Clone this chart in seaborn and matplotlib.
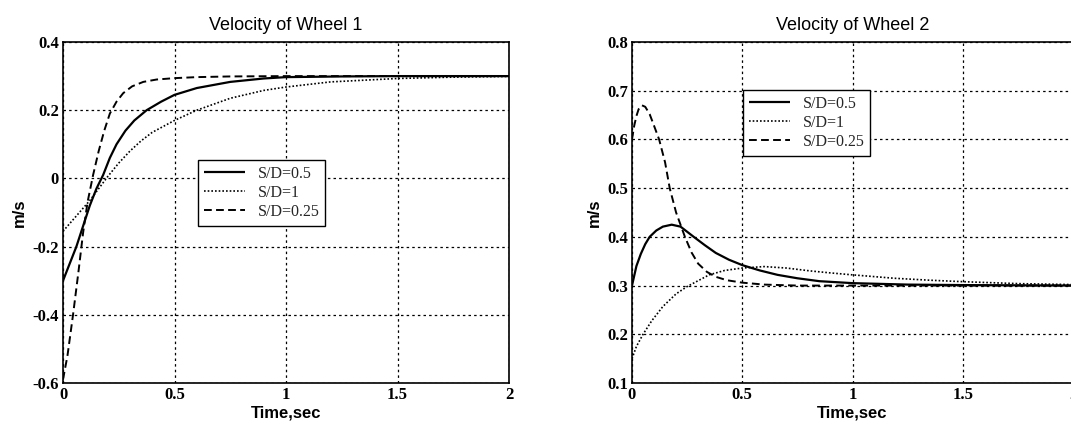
import numpy as np
import pandas as pd
import matplotlib
matplotlib.use("Agg")
import matplotlib.pyplot as plt
import seaborn as sns

# ---------------- data ----------------
labels = ["S/D=0.5", "S/D=1", "S/D=0.25"]

# Wheel 1
w1_t_05 = [0, 0.03, 0.06, 0.09, 0.12, 0.15, 0.18, 0.21, 0.24, 0.28, 0.32, 0.375, 0.44, 0.5, 0.6, 0.75, 0.9, 1.0, 1.25, 1.5, 2.0]
w1_v_05 = [-0.30, -0.25, -0.20, -0.14, -0.08, -0.03, 0.01, 0.06, 0.10, 0.14, 0.17, 0.20, 0.225, 0.245, 0.265, 0.283, 0.293, 0.297, 0.299, 0.300, 0.300]

w1_t_1 = [0, 0.04, 0.08, 0.12, 0.16, 0.2, 0.25, 0.3, 0.35, 0.4, 0.5, 0.6, 0.75, 0.9, 1.0, 1.2, 1.5, 1.75, 2.0]
w1_v_1 = [-0.155, -0.125, -0.095, -0.065, -0.03, 0.005, 0.045, 0.08, 0.11, 0.135, 0.17, 0.20, 0.235, 0.258, 0.268, 0.283, 0.293, 0.297, 0.299]

w1_t_025 = [0, 0.02, 0.045, 0.07, 0.09, 0.11, 0.135, 0.16, 0.185, 0.21, 0.24, 0.27, 0.31, 0.36, 0.42, 0.5, 0.6, 0.75, 1.0, 1.5, 2.0]
w1_v_025 = [-0.59, -0.52, -0.40, -0.27, -0.16, -0.07, 0.01, 0.08, 0.14, 0.19, 0.225, 0.25, 0.27, 0.283, 0.29, 0.294, 0.297, 0.299, 0.300, 0.300, 0.300]

# Wheel 2
w2_t_05 = [0, 0.02, 0.04, 0.06, 0.08, 0.11, 0.14, 0.18, 0.22, 0.28, 0.33, 0.38, 0.44, 0.5, 0.58, 0.66, 0.75, 0.85, 1.0, 1.25, 1.5, 2.0]
w2_v_05 = [0.30, 0.34, 0.365, 0.385, 0.40, 0.413, 0.421, 0.425, 0.421, 0.40, 0.383, 0.367, 0.353, 0.342, 0.331, 0.322, 0.315, 0.309, 0.305, 0.302, 0.301, 0.300]

w2_t_1 = [0, 0.02, 0.05, 0.09, 0.14, 0.2, 0.25, 0.3, 0.35, 0.42, 0.5, 0.6, 0.7, 0.81, 0.9, 1.0, 1.19, 1.35, 1.5, 1.75, 2.0]
w2_v_1 = [0.15, 0.175, 0.20, 0.228, 0.257, 0.283, 0.298, 0.31, 0.322, 0.331, 0.336, 0.339, 0.336, 0.330, 0.326, 0.322, 0.315, 0.311, 0.308, 0.304, 0.302]

w2_t_025 = [0, 0.01, 0.02, 0.03, 0.045, 0.06, 0.08, 0.1, 0.123, 0.15, 0.171, 0.2, 0.24, 0.27, 0.3, 0.34, 0.38, 0.43, 0.5, 0.6, 0.75, 1.0, 1.5, 2.0]
w2_v_025 = [0.60, 0.628, 0.648, 0.662, 0.67, 0.667, 0.652, 0.628, 0.60, 0.553, 0.50, 0.45, 0.40, 0.368, 0.345, 0.328, 0.318, 0.311, 0.306, 0.302, 0.300, 0.300, 0.300, 0.300]

x_ticks = [0, 0.5, 1, 1.5, 2]
x_tick_labels = ["0", "0.5", "1", "1.5", "2"]
w1_y_ticks = [-0.6, -0.4, -0.2, 0, 0.2, 0.4]
w1_y_tick_labels = ["-0.6", "-0.4", "-0.2", "0", "0.2", "0.4"]
w2_y_ticks = [0.1, 0.2, 0.3, 0.4, 0.5, 0.6, 0.7, 0.8]
w2_y_tick_labels = ["0.1", "0.2", "0.3", "0.4", "0.5", "0.6", "0.7", "0.8"]

# ---------------- styling ----------------
sns.set_theme(style="white")
plt.rcParams["font.family"] = ["Liberation Sans", "DejaVu Sans"]

W, H = 1071, 429
fig = plt.figure(figsize=(W / 100, H / 100), dpi=100)

styles = {"S/D=0.5": (0, ()), "S/D=1": (0, (1, 1.2)), "S/D=0.25": (0, (4, 2.2))}
widths = {"S/D=0.5": 1.6, "S/D=1": 1.2, "S/D=0.25": 1.4}


def make_axes(l, r):
    bottom = (H - 383) / H
    height = (383 - 42) / H
    return fig.add_axes([l / W, bottom, (r - l) / W, height])


def draw(ax, series, title, ylim, yt, ytl, leg_anchor):
    for lab, (t, v) in zip(labels, series):
        df = pd.DataFrame({"t": t, "v": v})
        sns.lineplot(data=df, x="t", y="v", ax=ax, color="black",
                     linestyle=styles[lab], linewidth=widths[lab], label=lab)
    ax.set_xlim(0, 2)
    ax.set_ylim(*ylim)
    ax.set_xticks(x_ticks)
    ax.set_xticklabels(x_tick_labels, family=["Liberation Serif"], fontweight="bold", fontsize=12)
    ax.set_yticks(yt)
    ax.set_yticklabels(ytl, family=["Liberation Serif"], fontweight="bold", fontsize=12)
    ax.tick_params(direction="in", length=3, width=0.8, colors="black", pad=3)
    ax.grid(True, color="black", linestyle=(0, (2, 2.5)), linewidth=0.9)
    for s in ax.spines.values():
        s.set_color("black")
        s.set_linewidth(1.2)
    ax.set_title(title, fontsize=13, pad=9, color="black")
    ax.set_xlabel("Time,sec", fontsize=12, fontweight="bold", color="black", labelpad=2)
    ax.set_ylabel("m/s", fontsize=12, fontweight="bold", color="black", labelpad=4)
    leg = ax.legend(loc="upper left", bbox_to_anchor=leg_anchor, borderaxespad=0,
                    frameon=True, fancybox=False, framealpha=1, edgecolor="black",
                    prop={"family": "Liberation Serif", "size": 11.5},
                    handlelength=2.6, labelspacing=0.2, borderpad=0.35, handletextpad=0.8)
    leg.get_frame().set_linewidth(1.0)


ax1 = make_axes(63, 509)
draw(ax1, [(w1_t_05, w1_v_05), (w1_t_1, w1_v_1), (w1_t_025, w1_v_025)],
     "Velocity of Wheel 1", (-0.6, 0.4), w1_y_ticks, w1_y_tick_labels, (0.303, 0.654))

ax2 = make_axes(632, 1073)
draw(ax2, [(w2_t_05, w2_v_05), (w2_t_1, w2_v_1), (w2_t_025, w2_v_025)],
     "Velocity of Wheel 2", (0.1, 0.8), w2_y_ticks, w2_y_tick_labels, (0.252, 0.859))

fig.savefig("out.png", dpi=100)
